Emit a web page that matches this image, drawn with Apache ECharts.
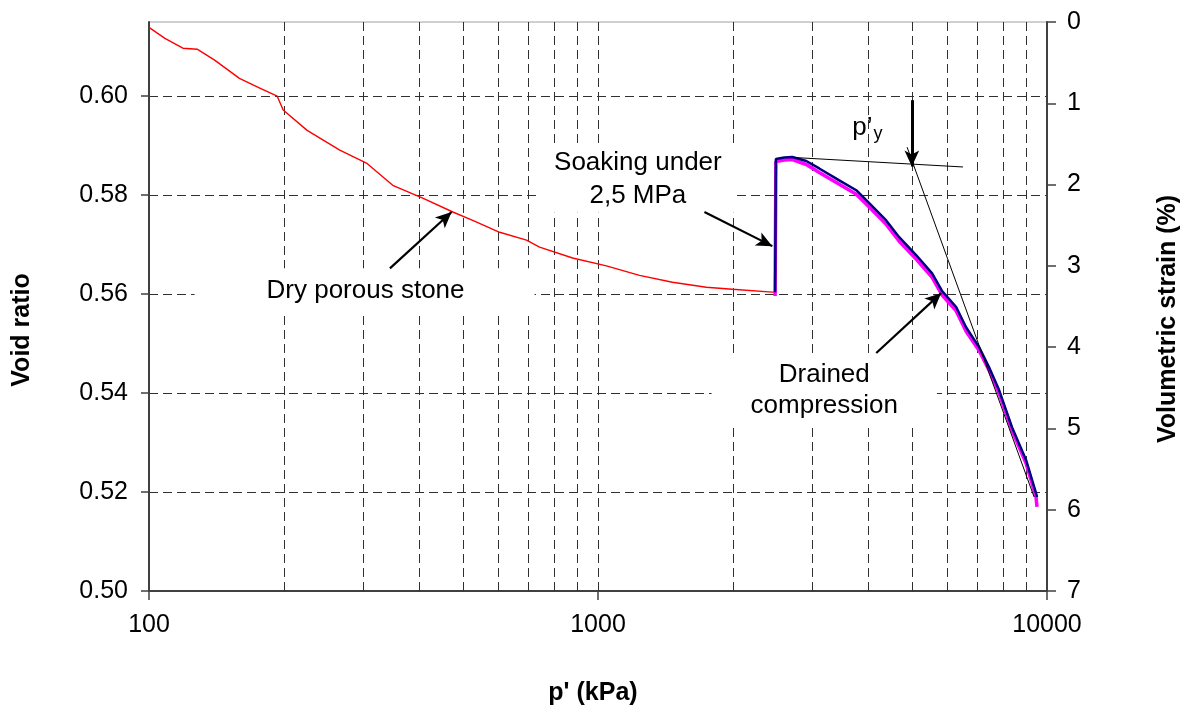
<!DOCTYPE html>
<html>
<head>
<meta charset="utf-8">
<script src="https://cdn.jsdelivr.net/npm/echarts@6/dist/echarts.min.js"></script>
<style>
html,body{margin:0;padding:0;background:#fff;}
#chart{width:1192px;height:713px;}
</style>
</head>
<body>
<div id="chart"></div>
<script>
// ---- data (p' in kPa, void ratio e) ----
var dryP = [100, 108.5, 119, 128, 140, 159, 177, 193, 199, 225, 266, 305, 349, 407, 475, 526, 604, 693, 741, 878, 1044, 1237, 1465, 1743, 1992, 2444, 2480];
var dryE = [0.6139, 0.6117, 0.6097, 0.6095, 0.6073, 0.6036, 0.6016, 0.6000, 0.5972, 0.5931, 0.5891, 0.5865, 0.5820, 0.5794, 0.5766, 0.5749, 0.5725, 0.5709, 0.5695, 0.5673, 0.5657, 0.5638, 0.5624, 0.5614, 0.5610, 0.5604, 0.5604];

var soakP = [2480, 2490, 2600, 2709, 2910, 3110, 3446, 3760, 4018, 4384, 4686, 5111, 5548, 5840, 6276, 6603, 7059, 7430, 7821, 8357, 8981, 9452, 9500];
var soakE = [0.5604, 0.5873, 0.5876, 0.5877, 0.5869, 0.5854, 0.5830, 0.5810, 0.5784, 0.5749, 0.5715, 0.5679, 0.5642, 0.5606, 0.5574, 0.5533, 0.5493, 0.5452, 0.5406, 0.5331, 0.5265, 0.5198, 0.5190];
var soakE2 = [0.5596, 0.5868, 0.5871, 0.5872, 0.5862, 0.5846, 0.5822, 0.5802, 0.5776, 0.5741, 0.5707, 0.5671, 0.5634, 0.5598, 0.5566, 0.5525, 0.5486, 0.5446, 0.5400, 0.5325, 0.5258, 0.5190, 0.5170];

var tangent1P = [2750, 6500];
var tangent1E = [0.5876, 0.5857];
var tangent2P = [4880, 9360];
var tangent2E = [0.5897, 0.5190];

var minorGridP = [200, 300, 400, 500, 600, 700, 800, 900, 1000, 2000, 3000, 4000, 5000, 6000, 7000, 8000, 9000];

var xTicks = [100, 1000, 10000];
var yLeftTicks = [0.50, 0.52, 0.54, 0.56, 0.58, 0.60];
var yRightTicks = [0, 1, 2, 3, 4, 5, 6, 7];

// annotation texts: [p, e, text]
var noteDry = [302, 0.5607, 'Dry porous stone'];
var noteSoak = [1227, 0.5833, 'Soaking under\n2,5 MPa'];
var noteDrained = [3191, 0.5406, 'Drained\ncompression'];
var notePy = [3980, 0.5937];

// arrows: [[p0, e0], [p1, e1]] tail -> head
var arrowDry = [[344, 0.5652], [472, 0.5766]];
var arrowSoak = [[1726, 0.5766], [2445, 0.5697]];
var arrowDrained = [[4166, 0.5481], [5810, 0.5602]];
var arrowPy = [[5000, 0.5992], [5000, 0.5858]];

function zip(a, b) { return a.map(function (v, i) { return [v, b[i]]; }); }

var FONT = 'Liberation Sans, Arial, sans-serif';
var AXIS_COLOR = '#404040';

var chart = echarts.init(document.getElementById('chart'), null, {renderer: 'canvas'});

function arrowPair(a) {
  return [{coord: a[0]}, {coord: a[1]}];
}

var noteLabelBase = {
  show: true, position: 'inside', color: '#000000', fontFamily: FONT, fontSize: 26,
  align: 'center', verticalAlign: 'middle',
  textBorderWidth: 0, textBorderColor: 'transparent', textShadowBlur: 0,
  backgroundColor: '#ffffff'
};

function noteLabel(extra) {
  var o = {};
  for (var k in noteLabelBase) o[k] = noteLabelBase[k];
  for (var j in extra) o[j] = extra[j];
  return o;
}

var option = {
  backgroundColor: '#ffffff',
  animation: false,
  grid: {
    left: 149, right: 145, top: 22, bottom: 122,
    show: true, borderColor: '#a0a0a0', borderWidth: 1, backgroundColor: 'transparent'
  },
  xAxis: {
    type: 'log', logBase: 10, min: xTicks[0], max: xTicks[xTicks.length - 1],
    axisLine: {show: true, onZero: false, lineStyle: {color: AXIS_COLOR, width: 2}},
    axisTick: {show: true, inside: false, length: 9, lineStyle: {color: AXIS_COLOR, width: 1.5}},
    axisLabel: {
      margin: 22, color: '#000', fontFamily: FONT, fontSize: 25,
      formatter: function (v) { return String(Math.round(v)); }
    },
    splitLine: {show: false},
    minorTick: {show: false}
  },
  yAxis: [
    {
      type: 'value', min: yLeftTicks[0], max: 0.615, interval: 0.02,
      position: 'left',
      axisLine: {show: true, onZero: false, lineStyle: {color: AXIS_COLOR, width: 2}},
      axisTick: {show: true, inside: false, length: 8, lineStyle: {color: AXIS_COLOR, width: 1.5}},
      axisLabel: {
        margin: 21, color: '#000', fontFamily: FONT, fontSize: 25, showMaxLabel: false,
        formatter: function (v) { return v > 0.612 ? '' : v.toFixed(2); }
      },
      splitLine: {show: true, showMinLine: false, showMaxLine: false, lineStyle: {color: '#303030', width: 1, type: [9, 5]}}
    },
    {
      type: 'value', min: yRightTicks[0], max: yRightTicks[yRightTicks.length - 1], interval: 1,
      inverse: true, position: 'right',
      axisLine: {show: true, onZero: false, lineStyle: {color: AXIS_COLOR, width: 2}},
      axisTick: {show: true, inside: false, length: 9, lineStyle: {color: AXIS_COLOR, width: 1.5}},
      axisLabel: {margin: 20, color: '#000', fontFamily: FONT, fontSize: 25},
      splitLine: {show: false}
    }
  ],
  series: [
    {
      name: 'grid-x', type: 'line', data: [], z: 1, silent: true,
      markLine: {
        silent: true, symbol: ['none', 'none'], animation: false, z: 1,
        label: {show: false},
        lineStyle: {color: '#303030', width: 1, type: [9, 5]},
        emphasis: {disabled: true},
        data: minorGridP.map(function (p) { return {xAxis: p}; })
      }
    },
    {
      name: 'notes', type: 'scatter', z: 3, silent: true, symbolSize: 0,
      itemStyle: {color: '#000000', opacity: 1},
      data: [
        {value: [noteDry[0], noteDry[1]], label: noteLabel({formatter: noteDry[2], padding: [4, 70, 11, 72], lineHeight: 30})},
        {value: [noteSoak[0], noteSoak[1]], label: noteLabel({formatter: noteSoak[2], padding: [1, 15, 1, 15], lineHeight: 33})},
        {value: [noteDrained[0], noteDrained[1]], label: noteLabel({formatter: noteDrained[2], padding: [6, 39, 6, 39], lineHeight: 31})},
        {value: [notePy[0], notePy[1]], label: noteLabel({
          formatter: '{a|p’}{b|y}', backgroundColor: 'transparent', padding: 0,
          rich: {
            a: {fontFamily: FONT, fontSize: 26, color: '#000'},
            b: {fontFamily: FONT, fontSize: 18, color: '#000', padding: [14, 0, 0, 1]}
          }
        })}
      ],
      label: noteLabelBase
    },
    {
      name: 'Dry porous stone', type: 'line', z: 5, showSymbol: false, silent: true,
      data: zip(dryP, dryE),
      lineStyle: {color: '#ff0000', width: 1.4}
    },
    {
      name: 'Soaked (magenta)', type: 'line', z: 5, showSymbol: false, silent: true,
      data: zip(soakP, soakE2),
      lineStyle: {color: '#ff00ff', width: 3.5}
    },
    {
      name: 'Soaked (blue)', type: 'line', z: 6, showSymbol: false, silent: true,
      data: zip(soakP, soakE),
      lineStyle: {color: '#000080', width: 2.5}
    },
    {
      name: 'tangent1', type: 'line', z: 7, showSymbol: false, silent: true,
      data: zip(tangent1P, tangent1E),
      lineStyle: {color: '#000', width: 1}
    },
    {
      name: 'tangent2', type: 'line', z: 7, showSymbol: false, silent: true,
      data: zip(tangent2P, tangent2E),
      lineStyle: {color: '#000', width: 1}
    },
    {
      name: 'arrows', type: 'line', data: [], z: 8, silent: true,
      markLine: {
        silent: true, animation: false, z: 8,
        symbol: ['none', 'arrow'], symbolSize: [11, 16],
        label: {show: false},
        emphasis: {disabled: true},
        lineStyle: {color: '#000', width: 2.2, type: 'solid'},
        data: [
          arrowPair(arrowDry),
          arrowPair(arrowSoak),
          arrowPair(arrowDrained),
          [{coord: arrowPy[0], lineStyle: {width: 3}}, {coord: arrowPy[1]}]
        ]
      }
    }
  ],
  graphic: [
    {
      type: 'text', x: 22, y: 330, rotation: Math.PI / 2,
      style: {text: 'Void ratio', fill: '#000', font: 'bold 25px ' + FONT, textAlign: 'center', textVerticalAlign: 'middle'}
    },
    {
      type: 'text', x: 1168, y: 319, rotation: Math.PI / 2,
      style: {text: 'Volumetric strain (%)', fill: '#000', font: 'bold 25px ' + FONT, textAlign: 'center', textVerticalAlign: 'middle'}
    },
    {
      type: 'text', x: 593, y: 693,
      style: {text: "p' (kPa)", fill: '#000', font: 'bold 25px ' + FONT, textAlign: 'center', textVerticalAlign: 'middle'}
    }
  ]
};
chart.setOption(option);
</script>
</body>
</html>
